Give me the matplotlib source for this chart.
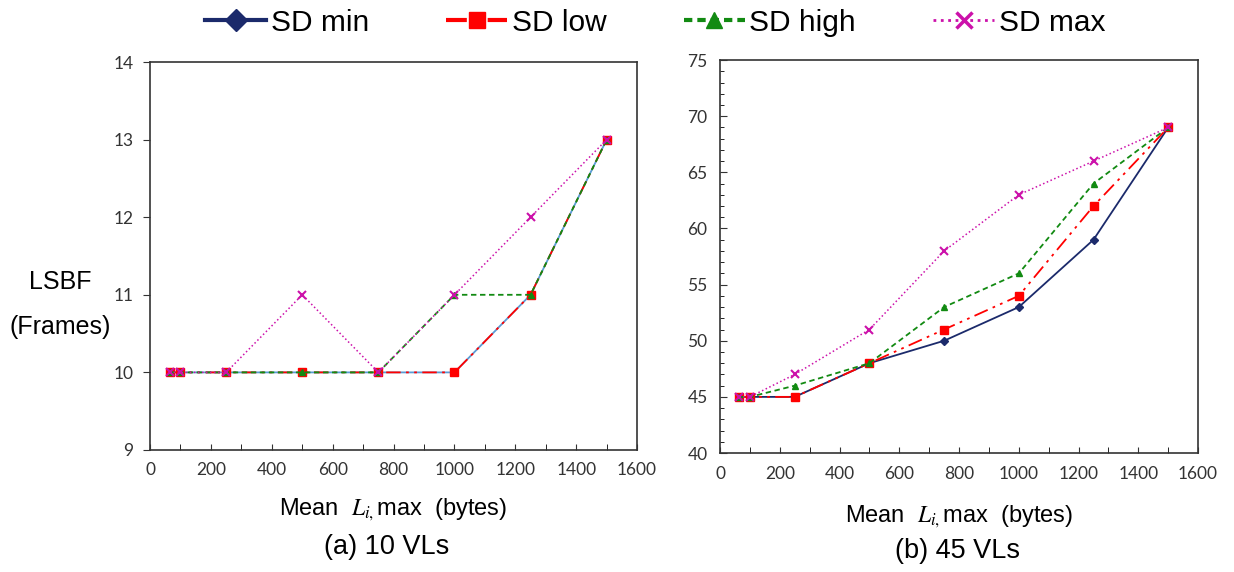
import matplotlib
matplotlib.use("Agg")
import matplotlib.pyplot as plt
from matplotlib.ticker import MultipleLocator

plt.rcParams['font.family'] = ['Liberation Sans', 'DejaVu Sans']
plt.rcParams['mathtext.fontset'] = 'stix'

# mean L_i,max (bytes)
sizes = [64, 100, 250, 500, 750, 1000, 1250, 1500]

# (a) 10 VLs
a_min = [10, 10, 10, 10, 10, 10, 11, 13]
a_low = [10, 10, 10, 10, 10, 10, 11, 13]
a_high = [10, 10, 10, 10, 10, 11, 11, 13]
a_max = [10, 10, 10, 11, 10, 11, 12, 13]

# (b) 45 VLs
b_min = [45, 45, 45, 48, 50, 53, 59, 69]
b_low = [45, 45, 45, 48, 51, 54, 62, 69]
b_high = [45, 45, 46, 48, 53, 56, 64, 69]
b_max = [45, 45, 47, 51, 58, 63, 66, 69]

labels = ["SD min", "SD low", "SD high", "SD max"]

navy = '#1b2a6b'
red = '#ff0000'
green = '#128a12'
magenta = '#cc11aa'
lightblue = '#5b9bd5'

fig = plt.figure(figsize=(12.34, 5.72), dpi=100)
ax1 = fig.add_axes([0.1216, 0.2133, 0.3947, 0.6783])
ax2 = fig.add_axes([0.5835, 0.208, 0.3874, 0.687])


def draw(ax, ymin, ylow, yhigh, ymax, mincolor):
    ax.plot(sizes, ymin, color=mincolor, lw=1.3, ls='-', marker='D', ms=4.5,
            mfc=mincolor, mec=mincolor)
    ax.plot(sizes, ylow, color=red, lw=1.3, dashes=(8, 3, 1.5, 3, 1.5, 3),
            marker='s', ms=5.5, mfc=red, mec=red)
    ax.plot(sizes, yhigh, color=green, lw=1.3, dashes=(3, 2), marker='^', ms=5,
            mfc=green, mec=green)
    ax.plot(sizes, ymax, color=magenta, lw=1.1, ls=':', marker='x', ms=5.5, mew=1.5)
    ax.set_xlim(0, 1600)
    ax.xaxis.set_major_locator(MultipleLocator(200))
    ax.xaxis.set_minor_locator(MultipleLocator(100))
    ax.tick_params(axis='x', which='both', direction='in', length=4)
    ax.tick_params(axis='x', which='major', pad=9)
    ax.tick_params(labelsize=12.5, colors='#333333')
    for lab in ax.get_xticklabels() + ax.get_yticklabels():
        lab.set_family('Lato')
    for sp in ax.spines.values():
        sp.set_color('#333333')
        sp.set_linewidth(1.2)


draw(ax1, a_min, a_low, a_high, a_max, lightblue)
ax1.set_ylim(9, 14)
ax1.yaxis.set_major_locator(MultipleLocator(1))
ax1.tick_params(axis='y', direction='out', length=5, pad=7)
ax1.set_xlabel(r"Mean  $L_{i,}$max  (bytes)", fontsize=17, labelpad=13)

draw(ax2, b_min, b_low, b_high, b_max, navy)
ax2.set_ylim(40, 75)
ax2.yaxis.set_major_locator(MultipleLocator(5))
ax2.yaxis.set_minor_locator(MultipleLocator(1))
ax2.tick_params(axis='y', which='major', direction='in', length=5, pad=9)
ax2.tick_params(axis='y', which='minor', direction='in', length=3)
ax2.set_xlabel(r"Mean  $L_{i,}$max  (bytes)", fontsize=17, labelpad=16)

lh_min = plt.Line2D([], [], color=navy, lw=3, marker='D', ms=11)
lh_low = plt.Line2D([], [], color=red, lw=3, dashes=(5, 2, 1, 2), marker='s', ms=11)
lh_high = plt.Line2D([], [], color=green, lw=3, dashes=(2, 1.2), marker='^', ms=11)
lh_max = plt.Line2D([], [], color=magenta, lw=2, ls=':', marker='x', ms=11, mew=2.5)
fig.legend([lh_min, lh_low, lh_high, lh_max], labels, loc='center',
           bbox_to_anchor=(0.531, 0.96), ncol=4, frameon=False, fontsize=21.5,
           handlelength=2.05, handletextpad=0.15, columnspacing=2.58)

fig.text(0.049, 0.507, "LSBF", fontsize=18, ha='center', va='center')
fig.text(0.049, 0.428, "(Frames)", fontsize=18, ha='center', va='center')

fig.text(0.3135, 0.043, "(a) 10 VLs", fontsize=19.5, ha='center', va='center')
fig.text(0.776, 0.036, "(b) 45 VLs", fontsize=19.5, ha='center', va='center')

fig.savefig("out.png", dpi=100, facecolor='white')
